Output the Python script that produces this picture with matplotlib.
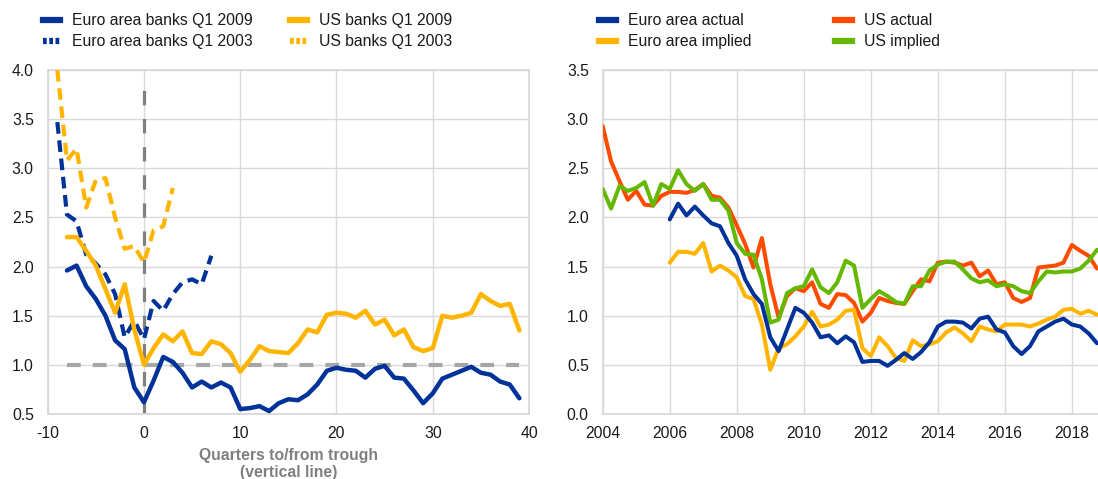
import matplotlib
matplotlib.use("Agg")
import matplotlib.pyplot as plt
from matplotlib.lines import Line2D
import numpy as np

plt.rcParams['font.family'] = ['Liberation Sans', 'DejaVu Sans']
plt.rcParams['font.size'] = 11.3
plt.rcParams['axes.unicode_minus'] = False

BLUE = "#003299"
GOLD = "#ffb400"
RED = "#ff4b00"
GREEN = "#65b800"
GRID = "#d9d9d9"
TXT = "#1a1a1a"

# left panel: quarters to/from trough
q2009 = np.arange(-8, 40)
ea_2009 = [1.96, 2.01, 1.80, 1.67, 1.50, 1.25, 1.16, 0.77, 0.62,
           0.84, 1.08, 1.03, 0.92, 0.77, 0.83, 0.77, 0.82, 0.77, 0.55,
           0.56, 0.58, 0.53, 0.61, 0.65, 0.64, 0.70, 0.80, 0.94, 0.97,
           0.95, 0.94, 0.87, 0.96, 0.99, 0.87, 0.86, 0.74, 0.61, 0.71,
           0.86, 0.90, 0.94, 0.98, 0.92, 0.90, 0.83, 0.80, 0.66]
us_2009 = [2.30, 2.30, 2.16, 2.01, 1.77, 1.53, 1.82, 1.36, 1.00,
           1.17, 1.31, 1.24, 1.34, 1.12, 1.11, 1.24, 1.21, 1.12, 0.93,
           1.05, 1.19, 1.14, 1.13, 1.12, 1.22, 1.36, 1.33, 1.51, 1.53,
           1.52, 1.48, 1.55, 1.41, 1.46, 1.30, 1.36, 1.18, 1.14, 1.17,
           1.50, 1.48, 1.50, 1.53, 1.72, 1.65, 1.60, 1.62, 1.35]
q_ea2003 = np.arange(-9, 8)
ea_2003 = [3.47, 2.53, 2.46, 2.12, 2.03, 1.92, 1.72, 1.28, 1.45,
           1.26, 1.65, 1.55, 1.72, 1.84, 1.87, 1.82, 2.11]
q_us2003 = np.arange(-9, 4)
us_2003 = [4.00, 3.08, 3.20, 2.60, 2.88, 2.90, 2.50, 2.18, 2.21,
           2.04, 2.37, 2.41, 2.80]
trough_q = 0
trough_top = 3.9
ref_level = 1.0

# right panel: quarterly, 2004Q1 onwards
t_us = 2004 + 0.25 * np.arange(60)
t_ea = 2006 + 0.25 * np.arange(52)
us_actual = [2.93, 2.57, 2.37, 2.18, 2.27, 2.13, 2.12, 2.22,
             2.26, 2.26, 2.25, 2.28, 2.34, 2.22, 2.20, 2.10,
             1.92, 1.73, 1.49, 1.79, 1.32, 0.98, 1.20, 1.28,
             1.25, 1.34, 1.12, 1.08, 1.22, 1.21, 1.13, 0.94,
             1.03, 1.18, 1.15, 1.13, 1.12, 1.25, 1.37, 1.35,
             1.54, 1.55, 1.54, 1.51, 1.54, 1.40, 1.46, 1.32,
             1.34, 1.18, 1.14, 1.18, 1.49, 1.50, 1.51, 1.54,
             1.72, 1.66, 1.61, 1.48]
us_implied = [2.29, 2.09, 2.32, 2.27, 2.30, 2.36, 2.12, 2.34,
              2.29, 2.48, 2.34, 2.27, 2.34, 2.18, 2.18, 2.07,
              1.74, 1.63, 1.62, 1.37, 0.93, 0.96, 1.23, 1.28,
              1.30, 1.47, 1.29, 1.23, 1.34, 1.56, 1.51, 1.08,
              1.17, 1.25, 1.20, 1.14, 1.12, 1.30, 1.30, 1.46,
              1.52, 1.55, 1.55, 1.47, 1.38, 1.34, 1.36, 1.30,
              1.32, 1.30, 1.25, 1.23, 1.35, 1.45, 1.44, 1.45,
              1.45, 1.48, 1.56, 1.67]
ea_actual = [1.98, 2.14, 2.02, 2.11, 2.02, 1.94, 1.91, 1.74,
             1.61, 1.37, 1.22, 1.12, 0.78, 0.64, 0.86, 1.08,
             1.03, 0.93, 0.78, 0.80, 0.72, 0.79, 0.73, 0.53,
             0.54, 0.54, 0.49, 0.55, 0.62, 0.56, 0.63, 0.73,
             0.89, 0.94, 0.94, 0.93, 0.87, 0.97, 0.99, 0.86,
             0.83, 0.69, 0.61, 0.69, 0.84, 0.89, 0.94, 0.97,
             0.91, 0.89, 0.82, 0.72]
ea_implied = [1.54, 1.65, 1.65, 1.63, 1.74, 1.45, 1.51, 1.46,
              1.39, 1.20, 1.17, 0.91, 0.45, 0.67, 0.71, 0.79,
              0.89, 1.04, 0.89, 0.91, 0.96, 1.05, 1.06, 0.67,
              0.59, 0.78, 0.69, 0.57, 0.54, 0.75, 0.69, 0.71,
              0.74, 0.83, 0.88, 0.82, 0.74, 0.89, 0.86, 0.84,
              0.91, 0.91, 0.91, 0.89, 0.92, 0.96, 0.99, 1.06,
              1.07, 1.02, 1.05, 1.01]


def style_axis(ax):
    ax.grid(True, color=GRID, lw=1.0, zorder=0)
    ax.set_axisbelow(True)
    for s in ax.spines.values():
        s.set_color(GRID)
        s.set_linewidth(1.3)
    ax.tick_params(length=0, colors=TXT, labelsize=11.3)
    ax.tick_params(axis='y', pad=10)
    ax.tick_params(axis='x', pad=9)


fig = plt.figure(figsize=(10.98, 4.79), dpi=100)
W, H = 1098, 479
ax1 = fig.add_axes([47.7 / W, 65 / H, (529 - 47.7) / W, 344 / H])
ax2 = fig.add_axes([602.7 / W, 65 / H, (W - 602.7) / W, 344 / H])

# ---- left panel
style_axis(ax1)
ax1.plot([q2009[0], q2009[-1]], [ref_level, ref_level], color="#a6a6a6", lw=3,
         ls=(0, (3.3, 2.9)), zorder=2)
ax1.plot([trough_q, trough_q], [0.5, trough_top], color="#808080", lw=2.3,
         ls=(0, (4.5, 4.3)), zorder=2)
dash = (0, (2.8, 1.6))
ax1.plot(q_us2003, us_2003, color=GOLD, lw=3, ls=dash, zorder=3)
ax1.plot(q_ea2003, ea_2003, color=BLUE, lw=3, ls=dash, zorder=3)
ax1.plot(q2009, us_2009, color=GOLD, lw=3.2, solid_joinstyle='round',
         solid_capstyle='round', zorder=4)
ax1.plot(q2009, ea_2009, color=BLUE, lw=3.2, solid_joinstyle='round',
         solid_capstyle='round', zorder=5)
ax1.set_xlim(-10, 40)
ax1.set_ylim(0.5, 4.0)
ax1.set_xticks(np.arange(-10, 41, 10))
ax1.set_yticks(np.arange(0.5, 4.01, 0.5))
ax1.set_yticklabels(["%.1f" % v for v in np.arange(0.5, 4.01, 0.5)])
ax1.set_xlabel("Quarters to/from trough\n(vertical line)", color="#7f7f7f",
               fontweight='bold', fontsize=11.3, labelpad=5, linespacing=1.15)

h_left = [Line2D([], [], color=BLUE, lw=4.5),
          Line2D([], [], color=BLUE, lw=4.5, ls=(0, (0.6, 0.4))),
          Line2D([], [], color=GOLD, lw=4.5),
          Line2D([], [], color=GOLD, lw=4.5, ls=(0, (0.6, 0.4)))]
ax1.legend(h_left, ["Euro area banks Q1 2009", "Euro area banks Q1 2003",
                    "US banks Q1 2009", "US banks Q1 2003"],
           ncol=2, loc='upper left', bbox_to_anchor=(43 / W, 1 - 13 / H),
           bbox_transform=fig.transFigure, frameon=False, borderaxespad=0,
           borderpad=0, handlelength=1.1, handletextpad=0.75,
           columnspacing=2.35, labelspacing=0.4, fontsize=11.3,
           labelcolor=TXT)

# ---- right panel
style_axis(ax2)
ax2.spines['right'].set_visible(False)
kw = dict(lw=2.9, solid_joinstyle='round', solid_capstyle='round')
ax2.plot(t_us, us_actual, color=RED, zorder=3, **kw)
ax2.plot(t_us, us_implied, color=GREEN, zorder=4, **kw)
ax2.plot(t_ea, ea_implied, color=GOLD, zorder=5, **kw)
ax2.plot(t_ea, ea_actual, color=BLUE, zorder=6, **kw)
ax2.set_xlim(2004, 2018.78)
ax2.set_ylim(0, 3.5)
ax2.set_xticks(np.arange(2004, 2019, 2))
ax2.set_yticks(np.arange(0, 3.51, 0.5))
ax2.set_yticklabels(["%.1f" % v for v in np.arange(0, 3.51, 0.5)])

h_right = [Line2D([], [], color=BLUE, lw=4.5),
           Line2D([], [], color=GOLD, lw=4.5),
           Line2D([], [], color=RED, lw=4.5),
           Line2D([], [], color=GREEN, lw=4.5)]
ax2.legend(h_right, ["Euro area actual", "Euro area implied",
                     "US actual", "US implied"],
           ncol=2, loc='upper left', bbox_to_anchor=(599 / W, 1 - 13 / H),
           bbox_transform=fig.transFigure, frameon=False, borderaxespad=0,
           borderpad=0, handlelength=1.1, handletextpad=0.75,
           columnspacing=5.3, labelspacing=0.4, fontsize=11.3,
           labelcolor=TXT)

fig.savefig("out.png", dpi=100)
